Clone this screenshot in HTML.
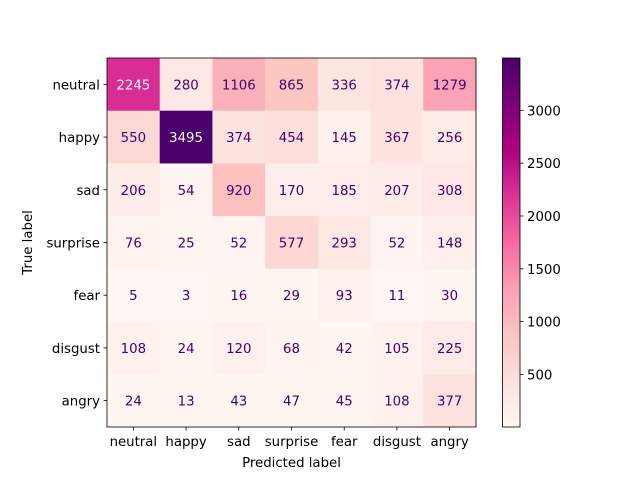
<!DOCTYPE html>
<html><head><meta charset="utf-8"><style>
body{margin:0;background:#fff;}
svg text{font-family:"DejaVu Sans","Liberation Sans",sans-serif;font-size:13.3px;}
</style></head><body>
<svg id="chart" width="640" height="480" xmlns="http://www.w3.org/2000/svg"></svg>
<script>
const labels=["neutral","happy","sad","surprise","fear","disgust","angry"];
const matrix=[
[2245,280,1106,865,336,374,1279],
[550,3495,374,454,145,367,256],
[206,54,920,170,185,207,308],
[76,25,52,577,293,52,148],
[5,3,16,29,93,11,30],
[108,24,120,68,42,105,225],
[24,13,43,47,45,108,377]];
const cbTicks=[500,1000,1500,2000,2500,3000];
const vmin=3, vmax=3495;
const stops=["#fff7f3","#fde0dd","#fcc5c0","#fa9fb5","#f768a1","#dd3497","#ae017e","#7a0177","#49006a"];
function hex(h){return [1,3,5].map(i=>parseInt(h.substr(i,2),16));}
function cmap(t){t=Math.max(0,Math.min(1,t));const p=t*8,i=Math.min(7,Math.floor(p)),f=p-i;const a=hex(stops[i]),b=hex(stops[i+1]);return `rgb(${a.map((v,k)=>Math.round(v+(b[k]-v)*f)).join(',')})`;}
const svg=document.getElementById('chart');const NS="http://www.w3.org/2000/svg";
function el(tag,attrs,parent){const e=document.createElementNS(NS,tag);for(const k in attrs)e.setAttribute(k,attrs[k]);(parent||svg).appendChild(e);return e;}
const X0=107,Y0=58,W=369,H=369,n=labels.length,cw=W/n,ch=H/n;
const xs=j=>X0+j*cw, ys=i=>Y0+i*ch;
const thr=(vmin+vmax)/2;
for(let i=0;i<n;i++)for(let j=0;j<n;j++){
 const v=matrix[i][j];
 const r=el('rect',{x:xs(j),y:ys(i),width:cw+0.5,height:ch+0.5,fill:cmap((v-vmin)/(vmax-vmin))});
 
 
 const t=el('text',{x:xs(j)+cw/2,y:ys(i)+ch/2+5,'text-anchor':'middle',fill:v>thr?'#fff7f3':'#49006a'});
 t.textContent=v;
 
 
}
const fr=el('rect',{x:X0,y:Y0,width:W,height:H,fill:'none',stroke:'#000','stroke-width':0.8});

labels.forEach((l,k)=>{
 el('line',{x1:xs(k)+cw/2,x2:xs(k)+cw/2,y1:Y0+H,y2:Y0+H+3.5,stroke:'#000','stroke-width':0.8});
 const tx=el('text',{x:xs(k)+cw/2,y:Y0+H+19,'text-anchor':'middle'});tx.textContent=l;
 
 el('line',{x1:X0-3.5,x2:X0,y1:ys(k)+ch/2,y2:ys(k)+ch/2,stroke:'#000','stroke-width':0.8});
 const ty=el('text',{x:X0-7,y:ys(k)+ch/2+5,'text-anchor':'end'});ty.textContent=l;
 
});
const xl=el('text',{x:X0+W/2,y:467,'text-anchor':'middle'});xl.textContent='Predicted label';

const yl=el('text',{x:32,y:Y0+H/2,'text-anchor':'middle',transform:`rotate(-90 32 ${Y0+H/2})`});yl.textContent='True label';

const CX=502.5,CW=17.5,CT=58,CB=427;
const cy=v=>CB-(v-vmin)/(vmax-vmin)*(CB-CT);
const defs=el('defs',{});const g=el('linearGradient',{id:'cg',x1:0,y1:1,x2:0,y2:0},defs);
for(let k=0;k<=32;k++)el('stop',{offset:k/32,'stop-color':cmap(k/32)},g);
const cb=el('rect',{x:CX,y:CT,width:CW,height:CB-CT,fill:'url(#cg)',stroke:'#000','stroke-width':0.8});

cbTicks.forEach(v=>{
 el('line',{x1:CX+CW,x2:CX+CW+3.5,y1:cy(v),y2:cy(v),stroke:'#000','stroke-width':0.8});
 const t=el('text',{x:CX+CW+7,y:cy(v)+5});t.textContent=v;
 
});
</script>
</body></html>
